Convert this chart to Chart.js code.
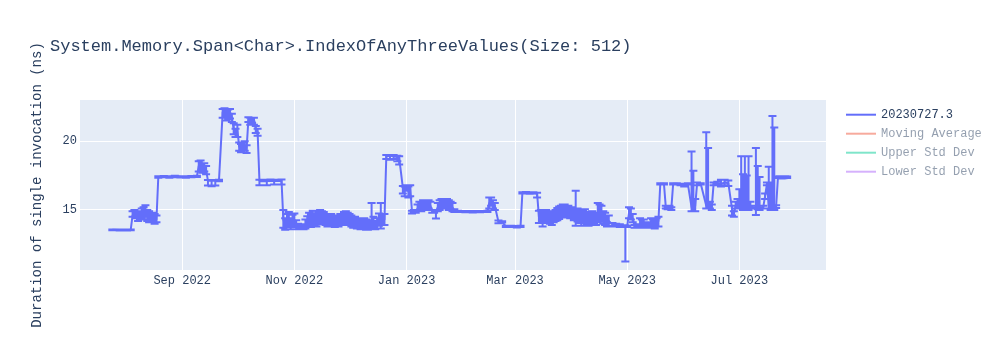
<!DOCTYPE html>
<html>
<head>
<meta charset="utf-8">
<title>IndexOfAnyThreeValues</title>
<script src="https://cdn.jsdelivr.net/npm/chart.js@4.4.0/dist/chart.umd.min.js"></script>
<style>
  html, body { margin: 0; padding: 0; background: #ffffff; }
  #chart { display: block; }
</style>
</head>
<body>
<canvas id="chart" width="1000" height="350"></canvas>
<script>
// ---- data ----
const chartTitle = "System.Memory.Span<Char>.IndexOfAnyThreeValues(Size: 512)";
const yAxisTitle = "Duration of single invocation (ns)";
const seriesNames = ["20230727.3", "Moving Average", "Upper Std Dev", "Lower Std Dev"];

const dates = [
  '2022-07-25','2022-07-29','2022-08-02','2022-08-04',
  '2022-08-05','2022-08-06','2022-08-07','2022-08-08','2022-08-09','2022-08-10','2022-08-11','2022-08-12','2022-08-13','2022-08-14',
  '2022-08-15','2022-08-16','2022-08-17','2022-08-18',
  '2022-08-19','2022-08-22','2022-08-25','2022-08-28','2022-08-31','2022-09-03','2022-09-06','2022-09-09',
  '2022-09-10','2022-09-11','2022-09-12','2022-09-13','2022-09-14',
  '2022-09-15','2022-09-17','2022-09-19','2022-09-21',
  '2022-09-23','2022-09-24','2022-09-25','2022-09-26','2022-09-27','2022-09-28','2022-09-29','2022-09-30','2022-10-01','2022-10-02',
  '2022-10-03','2022-10-04','2022-10-05','2022-10-06','2022-10-07','2022-10-08','2022-10-09','2022-10-10','2022-10-11','2022-10-12',
  '2022-10-13','2022-10-15','2022-10-17','2022-10-19','2022-10-21','2022-10-23','2022-10-25',
  '2022-10-26','2022-10-27','2022-10-28','2022-10-29','2022-10-30','2022-10-31','2022-11-01','2022-11-02','2022-11-03','2022-11-04',
  '2022-11-05','2022-11-06','2022-11-07','2022-11-08','2022-11-09','2022-11-10','2022-11-11','2022-11-12','2022-11-13','2022-11-14',
  '2022-11-15','2022-11-16','2022-11-17','2022-11-18','2022-11-19','2022-11-20','2022-11-21','2022-11-22','2022-11-23','2022-11-24',
  '2022-11-25','2022-11-26','2022-11-27','2022-11-28','2022-11-29','2022-11-30','2022-12-01','2022-12-02','2022-12-03','2022-12-04',
  '2022-12-05','2022-12-06','2022-12-07','2022-12-08','2022-12-09','2022-12-10','2022-12-11','2022-12-12','2022-12-13','2022-12-14',
  '2022-12-15','2022-12-16','2022-12-17','2022-12-18','2022-12-19','2022-12-20',
  '2022-12-21','2022-12-23','2022-12-25','2022-12-27','2022-12-28',
  '2022-12-30','2022-12-31','2023-01-01','2023-01-02','2023-01-03',
  '2023-01-04','2023-01-05','2023-01-06','2023-01-07','2023-01-08','2023-01-09','2023-01-10','2023-01-11','2023-01-12','2023-01-13',
  '2023-01-14','2023-01-15','2023-01-16','2023-01-17','2023-01-18','2023-01-19','2023-01-20','2023-01-21','2023-01-22','2023-01-23',
  '2023-01-24','2023-01-25','2023-01-26','2023-01-27',
  '2023-01-29','2023-02-02','2023-02-06','2023-02-10','2023-02-14',
  '2023-02-15','2023-02-16','2023-02-17','2023-02-18',
  '2023-02-20','2023-02-22','2023-02-24','2023-02-27','2023-03-02','2023-03-04',
  '2023-03-05','2023-03-07','2023-03-09','2023-03-11','2023-03-13',
  '2023-03-14','2023-03-15','2023-03-16','2023-03-17','2023-03-18','2023-03-19','2023-03-20','2023-03-21','2023-03-22','2023-03-23',
  '2023-03-24','2023-03-25','2023-03-26','2023-03-27','2023-03-28','2023-03-29','2023-03-30','2023-03-31','2023-04-01','2023-04-02',
  '2023-04-03','2023-04-04','2023-04-05','2023-04-06','2023-04-07','2023-04-08','2023-04-09','2023-04-10','2023-04-11','2023-04-12',
  '2023-04-13','2023-04-14','2023-04-15','2023-04-16','2023-04-17','2023-04-18','2023-04-19','2023-04-20','2023-04-21',
  '2023-04-23','2023-04-25','2023-04-27','2023-04-29','2023-04-30','2023-05-01',
  '2023-05-02','2023-05-03','2023-05-04','2023-05-05','2023-05-06','2023-05-07','2023-05-08','2023-05-09','2023-05-10','2023-05-11',
  '2023-05-12','2023-05-13','2023-05-14','2023-05-15','2023-05-16','2023-05-17','2023-05-18',
  '2023-05-19','2023-05-21','2023-05-22','2023-05-23','2023-05-24','2023-05-25','2023-05-26','2023-05-28','2023-05-30','2023-06-01',
  '2023-06-03','2023-06-05','2023-06-06','2023-06-07','2023-06-08','2023-06-10','2023-06-13','2023-06-14','2023-06-15','2023-06-16',
  '2023-06-17','2023-06-19','2023-06-21','2023-06-23','2023-06-25','2023-06-27','2023-06-28','2023-06-29','2023-06-30','2023-07-01',
  '2023-07-02','2023-07-03','2023-07-04','2023-07-05','2023-07-06','2023-07-07','2023-07-08','2023-07-10','2023-07-11','2023-07-12',
  '2023-07-14','2023-07-15','2023-07-16','2023-07-17','2023-07-18','2023-07-19','2023-07-20','2023-07-21','2023-07-22','2023-07-23',
  '2023-07-24','2023-07-25','2023-07-26','2023-07-27'
];

const values = [
  13.55,13.54,13.54,13.55,
  14.6,14.8,14.7,14.5,14.6,14.8,14.7,14.9,14.6,14.5,
  14.4,14.5,14.3,14.3,
  17.4,17.42,17.4,17.43,17.41,17.4,17.42,17.44,
  18.2,18.3,18.0,18.1,17.9,
  17.13,17.12,17.13,17.14,
  22.1,22.2,21.8,22.0,22.15,21.7,20.9,20.6,20.8,19.6,
  19.5,19.6,19.7,19.4,21.6,21.5,21.55,21.6,20.9,20.7,
  17.15,17.14,17.15,17.16,17.15,17.15,17.16,
  14.3,13.9,14.2,14.4,14.0,14.2,14.3,13.9,13.75,13.7,
  13.7,13.75,13.8,14.1,14.3,14.2,14.5,14.3,14.2,14.4,
  14.6,14.5,14.4,14.3,14.2,14.3,14.3,14.2,14.1,14.2,
  14.2,14.3,14.3,14.4,14.5,14.4,14.3,14.2,14.1,14.1,
  14.0,14.0,13.9,14.0,14.0,13.9,13.8,13.9,14.0,14.1,
  13.9,14.0,14.3,14.0,14.3,14.3,
  18.9,18.95,18.9,18.85,18.8,
  16.6,16.5,16.7,16.4,16.6,
  14.85,14.9,14.9,15.1,15.3,15.2,15.4,15.3,15.5,15.4,
  15.3,14.9,14.9,14.88,15.2,15.4,15.5,15.6,15.5,15.5,
  15.4,15.3,15.2,14.95,
  14.9,14.88,14.87,14.88,14.9,
  15.5,15.7,15.4,15.3,
  14.13,14.13,13.8,13.8,13.78,13.8,
  16.24,16.25,16.23,16.24,16.2,
  14.5,14.6,14.4,14.5,14.6,14.5,14.4,14.3,14.5,14.6,
  14.7,14.8,14.9,15.0,15.0,14.9,14.9,14.8,14.8,14.7,
  14.6,14.7,14.6,14.4,14.5,14.6,14.4,14.3,14.4,14.5,
  14.4,14.3,14.5,14.6,14.6,14.4,14.3,14.2,14.2,
  13.95,13.9,13.85,13.8,13.78,13.8,
  14.8,14.6,14.4,13.8,13.8,13.85,13.8,13.9,14.0,13.9,
  13.8,13.9,14.1,14.0,13.95,14.1,14.2,
  16.9,16.9,15.2,15.15,15.2,15.1,16.9,16.9,16.85,16.8,
  16.9,15.2,15.1,15.3,16.9,16.9,15.3,15.2,15.3,15.2,
  16.9,16.95,16.9,17.0,16.95,15.1,14.7,15.3,15.4,15.3,
  15.3,15.2,15.3,15.25,15.2,15.3,15.2,15.2,15.25,15.2,
  15.2,16.0,16.9,15.3,15.2,15.3,15.2,15.25,17.38,17.4,
  17.38,17.36,17.4,17.38
];

// error bar extents above / below each value
const errorPlus = [
  0.03,0.03,0.03,0.03,
  0.3,0.2,0.2,0.4,0.3,0.3,0.5,0.45,0.4,0.4,
  0.4,0.3,0.4,0.3,
  0.05,0.05,0.05,0.05,0.05,0.05,0.05,0.05,
  0.35,0.3,0.4,0.3,0.3,
  0.05,0.05,0.05,0.05,
  0.25,0.2,0.5,0.3,0.2,0.3,0.4,0.3,0.4,0.3,
  0.3,0.3,0.3,0.3,0.15,0.2,0.15,0.1,0.2,0.2,
  0.05,0.05,0.05,0.05,0.05,0.05,0.05,
  0.7,0.5,0.5,0.45,0.4,0.45,0.45,0.35,0.25,0.15,
  0.15,0.2,0.5,0.45,0.5,0.45,0.45,0.45,0.5,0.45,
  0.4,0.4,0.45,0.4,0.4,0.4,0.4,0.4,0.4,0.4,
  0.4,0.4,0.4,0.45,0.4,0.4,0.4,0.4,0.4,0.4,
  0.4,0.4,0.4,0.4,0.4,0.4,0.3,0.35,1.5,0.4,
  0.3,0.4,0.45,1.5,0.4,0.4,
  0.1,0.05,0.1,0.1,0.1,
  0.15,0.2,0.1,0.3,0.2,
  0.1,0.1,0.1,0.3,0.3,0.3,0.3,0.3,0.2,0.3,
  0.3,0.1,0.1,0.1,0.3,0.3,0.3,0.2,0.3,0.3,
  0.3,0.3,0.3,0.1,
  0.05,0.05,0.05,0.05,0.05,
  0.4,0.2,0.3,0.2,
  0.1,0.05,0.05,0.05,0.05,0.05,
  0.05,0.05,0.05,0.05,0.05,
  0.45,0.4,0.4,0.4,0.4,0.4,0.4,0.4,0.4,0.4,
  0.45,0.45,0.4,0.4,0.4,0.4,0.4,0.4,0.4,0.4,
  1.8,0.4,0.45,0.45,0.45,0.45,0.45,0.4,0.4,0.4,
  0.4,0.4,1.0,0.8,0.7,0.5,0.5,0.4,0.4,
  0.1,0.1,0.1,0.05,0.1,0.05,
  0.4,0.5,0.3,0.1,0.1,0.1,0.6,0.4,0.3,0.2,
  0.2,0.2,0.3,0.3,0.3,0.3,0.3,
  0.05,0.05,0.1,0.1,0.1,0.1,0.05,0.05,0.05,0.1,
  0.05,4.05,2.75,0.5,0.1,0.05,5.35,4.3,0.3,0.2,
  0.1,0.1,0.3,0.2,0.2,0.2,0.2,0.3,0.4,1.2,
  3.6,2.4,3.6,2.25,3.7,0.3,0.1,4.3,2.95,2.2,
  0.1,0.2,0.1,2.85,1.8,6.54,5.8,0.1,0.05,0.05,
  0.05,0.05,0.05,0.05
];

const errorMinus = [
  0.03,0.03,0.03,0.03,
  0.1,0.3,0.3,0.3,0.3,0.4,0.4,0.4,0.4,0.4,
  0.3,0.4,0.3,0.2,
  0.05,0.05,0.05,0.05,0.05,0.05,0.05,0.05,
  0.4,0.5,0.3,0.3,0.3,
  0.35,0.4,0.35,0.05,
  0.4,0.5,0.3,0.4,0.5,0.3,0.4,0.3,0.5,0.3,
  0.3,0.3,0.4,0.25,0.2,0.3,0.2,0.4,0.3,0.3,
  0.35,0.05,0.35,0.05,0.3,0.05,0.3,
  0.6,0.35,0.45,0.5,0.4,0.45,0.5,0.3,0.15,0.1,
  0.1,0.15,0.15,0.35,0.45,0.45,0.5,0.45,0.4,0.45,
  0.5,0.45,0.45,0.4,0.4,0.4,0.4,0.4,0.35,0.4,
  0.4,0.4,0.4,0.4,0.4,0.4,0.4,0.4,0.4,0.4,
  0.35,0.35,0.3,0.35,0.35,0.35,0.25,0.3,0.35,0.35,
  0.3,0.35,0.45,0.35,0.4,0.4,
  0.2,0.3,0.2,0.3,0.5,
  0.4,0.5,0.3,0.5,0.6,
  0.1,0.1,0.1,0.2,0.3,0.3,0.3,0.3,0.3,0.3,
  0.3,0.1,0.1,0.5,0.3,0.4,0.4,0.4,0.4,0.4,
  0.4,0.3,0.3,0.1,
  0.05,0.05,0.05,0.05,0.05,
  0.4,0.4,0.3,0.3,
  0.1,0.05,0.05,0.05,0.05,0.05,
  0.05,0.05,0.05,0.05,0.3,
  0.45,0.55,0.6,0.45,0.4,0.4,0.4,0.4,0.4,0.4,
  0.45,0.45,0.45,0.45,0.45,0.45,0.45,0.4,0.4,0.45,
  0.75,0.55,0.55,0.55,0.45,0.45,0.45,0.45,0.4,0.4,
  0.4,0.4,0.4,0.4,0.45,0.4,0.4,0.4,0.4,
  0.1,0.1,0.1,0.05,2.54,0.05,
  0.4,0.3,0.3,0.1,0.1,0.1,0.1,0.1,0.3,0.2,
  0.1,0.2,0.3,0.3,0.3,0.3,0.4,
  0.05,0.05,0.1,0.1,0.1,0.1,0.05,0.05,0.05,0.1,
  0.05,0.3,0.2,0.4,0.1,0.05,0.2,0.1,0.2,0.2,
  0.1,0.1,0.2,0.2,0.2,0.5,0.2,0.2,0.3,0.2,
  0.2,0.2,0.3,0.2,0.2,0.2,0.1,0.56,0.2,0.2,
  0.1,0.2,0.1,0.2,0.2,0.2,0.2,0.1,0.05,0.05,
  0.1,0.05,0.05,0.05
];

const xTickDates = ['2022-09-01','2022-11-01','2023-01-01','2023-03-01','2023-05-01','2023-07-01'];
const xTickLabels = ['Sep 2022','Nov 2022','Jan 2023','Mar 2023','May 2023','Jul 2023'];
const yTicks = [15, 20];
const xRange = ['2022-07-07T10:00:00Z', '2023-08-17T03:00:00Z'];
const yRange = [10.63, 23.0];

if (dates.length !== values.length || values.length !== errorPlus.length || values.length !== errorMinus.length) {
  console.error("data arrays differ in length", dates.length, values.length, errorPlus.length, errorMinus.length);
}

// ---- style ----
const MONO = '"Liberation Mono", "Courier New", monospace';
const TEXT = '#2a3f5f';
const PLOT_BG = '#E5ECF6';
const colors = ['#636efa', '#EF553B', '#00CC96', '#AB63FA'];
const CAP = 4; // half width of the error bar caps

/* plot background */
const plotBackground = {
  id: 'plotBackground',
  beforeDraw(chart) {
    const { ctx, chartArea } = chart;
    ctx.save();
    ctx.fillStyle = PLOT_BG;
    ctx.fillRect(chartArea.left, chartArea.top, chartArea.width, chartArea.height);
    ctx.restore();
  }
};

/* vertical error bars for the main series */
const errorBars = {
  id: 'errorBars',
  afterDatasetsDraw(chart) {
    const { ctx, chartArea, scales } = chart;
    ctx.save();
    ctx.beginPath();
    ctx.rect(chartArea.left, chartArea.top, chartArea.width, chartArea.height);
    ctx.clip();
    ctx.strokeStyle = colors[0];
    ctx.lineWidth = 2;
    ctx.beginPath();
    for (let i = 0; i < values.length; i++) {
      const px = scales.x.getPixelForValue(Date.parse(dates[i]));
      const top = scales.y.getPixelForValue(values[i] + errorPlus[i]);
      const bottom = scales.y.getPixelForValue(values[i] - errorMinus[i]);
      ctx.moveTo(px, top); ctx.lineTo(px, bottom);
      ctx.moveTo(px - CAP, top); ctx.lineTo(px + CAP, top);
      ctx.moveTo(px - CAP, bottom); ctx.lineTo(px + CAP, bottom);
    }
    ctx.stroke();
    ctx.restore();
  }
};

/* title and plotly-like legend on the right */
const titleAndLegend = {
  id: 'titleAndLegend',
  afterDraw(chart) {
    const { ctx } = chart;
    ctx.save();
    ctx.fillStyle = TEXT;
    ctx.font = '17px ' + MONO;
    ctx.textBaseline = 'alphabetic';
    ctx.textAlign = 'left';
    ctx.fillText(chartTitle, 50, 51);

    ctx.font = '12px ' + MONO;
    ctx.textBaseline = 'middle';
    chart.data.datasets.forEach(function (ds, i) {
      const y = 114.7 + i * 19;
      ctx.globalAlpha = chart.isDatasetVisible(i) ? 1 : 0.5;
      ctx.strokeStyle = ds.borderColor;
      ctx.lineWidth = 2;
      ctx.beginPath();
      ctx.moveTo(846, y);
      ctx.lineTo(876, y);
      ctx.stroke();
      ctx.fillStyle = TEXT;
      ctx.fillText(ds.label, 881, y);
    });
    ctx.restore();
  }
};

const points = values.map(function (v, i) {
  return { x: Date.parse(dates[i]), y: v };
});

var ctx = document.getElementById("chart").getContext("2d");
var chart = new Chart(ctx, {
  type: "line",
  data: {
    datasets: [
      { label: seriesNames[0], data: points, borderColor: colors[0], backgroundColor: colors[0], borderWidth: 2 },
      { label: seriesNames[1], data: [], borderColor: colors[1], hidden: true },
      { label: seriesNames[2], data: [], borderColor: colors[2], hidden: true },
      { label: seriesNames[3], data: [], borderColor: colors[3], hidden: true },
    ],
  },
  options: {
    responsive: false,
    animation: false,
    devicePixelRatio: 1,
    layout: { padding: { left: 0, right: 174, top: 100, bottom: 0 } },
    elements: {
      point: { radius: 0, hoverRadius: 0 },
      line: { tension: 0, borderJoinStyle: 'round', fill: false },
    },
    plugins: {
      legend: { display: false },
      title: { display: false },
      tooltip: { enabled: false },
    },
    scales: {
      x: {
        type: 'linear',
        min: Date.parse(xRange[0]),
        max: Date.parse(xRange[1]),
        afterBuildTicks: function (scale) {
          scale.ticks = xTickDates.map(function (d) { return { value: Date.parse(d) }; });
        },
        afterFit: function (scale) { scale.height = 80; },
        grid: { color: '#ffffff', lineWidth: 1, drawTicks: false },
        border: { display: false },
        ticks: {
          autoSkip: false,
          maxRotation: 0,
          padding: 4,
          color: TEXT,
          font: { family: MONO, size: 12 },
          callback: function (value, index) { return xTickLabels[index]; },
        },
      },
      y: {
        type: 'linear',
        min: yRange[0],
        max: yRange[1],
        afterBuildTicks: function (scale) {
          scale.ticks = yTicks.map(function (v) { return { value: v }; });
        },
        afterFit: function (scale) { scale.width = 80; },
        grid: { color: '#ffffff', lineWidth: 1, drawTicks: false },
        border: { display: false },
        ticks: {
          padding: 3,
          color: TEXT,
          font: { family: MONO, size: 12 },
        },
        title: {
          display: true,
          text: yAxisTitle,
          color: TEXT,
          font: { family: MONO, size: 14 },
          padding: { top: 28.6, bottom: 0 },
        },
      },
    },
  },
  plugins: [plotBackground, errorBars, titleAndLegend],
});
</script>
</body>
</html>
